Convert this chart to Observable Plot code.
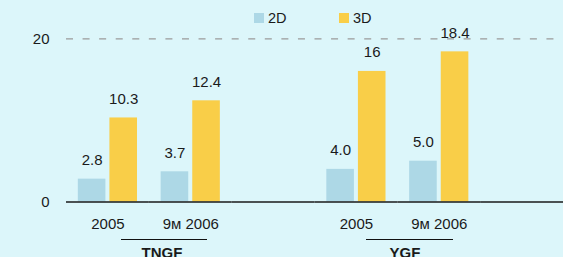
<!DOCTYPE html>
<html>
<head>
<meta charset="utf-8">
<script src="https://cdn.jsdelivr.net/npm/d3@7"></script>
<script src="https://cdn.jsdelivr.net/npm/@observablehq/plot@0.6"></script>
<style>
  body { margin: 0; background: #ffffff; font-family: "Liberation Sans", Arial, sans-serif; }
  #wrap { position: relative; width: 563px; height: 257px; background: #dcf6fa; color: #1a1a1a; }
  #legend { position: absolute; left: 254px; top: 9.5px; display: flex; font-size: 14.5px; }
  .item { display: flex; align-items: center; width: 85px; }
  .sw { width: 10px; height: 10px; margin-right: 4px; }
  .grp { position: absolute; text-align: center; font-weight: bold; font-size: 15px; width: 100px; line-height: 17px; }
  .uline { position: absolute; height: 0; border-top: 1.3px solid #111; }
</style>
</head>
<body>
<div id="wrap"></div>
<script>
// ---- data ----
const groups = ["TNGF", "YGF"];
const categories = ["2005", "9м 2006"];
const series = ["2D", "3D"];
const seriesColors = ["#add8e6", "#f9ce48"];
const values2D = [2.8, 3.7, 4.0, 5.0];
const values3D = [10.3, 12.4, 16, 18.4];
const labels2D = ["2.8", "3.7", "4.0", "5.0"];
const labels3D = ["10.3", "12.4", "16", "18.4"];
const yTicks = [0, 20];

// ---- build table ----
const rows = [];
const slotKeys = [];
groups.forEach((g, gi) => {
  categories.forEach((c, ci) => {
    const k = g + " " + c;
    const i = gi * categories.length + ci;
    slotKeys.push(k);
    rows.push({slot: k, group: g, category: c, series: series[0], value: values2D[i], label: labels2D[i]});
    rows.push({slot: k, group: g, category: c, series: series[1], value: values3D[i], label: labels3D[i]});
  });
  const sp = "spacer " + gi;
  slotKeys.push(sp);
  rows.push({slot: sp, group: g, category: "", series: series[0], value: NaN, label: ""});
});

const chart = Plot.plot({
  width: 563,
  height: 257,
  marginTop: 38.3,
  marginBottom: 55.5,
  marginLeft: 66,
  marginRight: 0,
  style: {background: "transparent", fontSize: "15px", fontFamily: "'Liberation Sans', Arial, sans-serif", color: "#1a1a1a", overflow: "visible"},
  facet: {data: rows, x: "slot"},
  fx: {domain: slotKeys, padding: 0, round: false, axis: null, label: null},
  x: {domain: series, paddingInner: 0.127, paddingOuter: 0.374, round: false, axis: null},
  y: {domain: [0, 20], ticks: yTicks, tickSize: 0, tickPadding: 17, label: null},
  color: {domain: series, range: seriesColors},
  marks: [
    Plot.ruleY([20], {stroke: "#9a9a9a", strokeWidth: 1.2, strokeDasharray: "7 9.57"}),
    Plot.barY(rows, {x: "series", y: "value", fill: "series"}),
    Plot.ruleY([0], {stroke: "#1a1a1a", strokeWidth: 1.5}),
    Plot.text(rows, {x: "series", y: "value", text: "label", dy: -18.8, fill: "#1a1a1a"}),
    Plot.text(rows, {filter: d => d.series === series[0], frameAnchor: "bottom", text: "category", lineAnchor: "top", dy: 16, fill: "#1a1a1a"})
  ]
});

const wrap = document.getElementById("wrap");
wrap.appendChild(chart);

// legend
const legend = document.createElement("div");
legend.id = "legend";
series.forEach((s, i) => {
  const it = document.createElement("div");
  it.className = "item";
  const sw = document.createElement("span");
  sw.className = "sw";
  sw.style.background = seriesColors[i];
  const t = document.createElement("span");
  t.textContent = s;
  it.appendChild(sw); it.appendChild(t);
  legend.appendChild(it);
});
wrap.appendChild(legend);

// group labels with underline
const groupPos = [{ul: 121, w: 86, c: 162}, {ul: 366, w: 87, c: 405}];
groups.forEach((g, i) => {
  const u = document.createElement("div");
  u.className = "uline";
  u.style.left = groupPos[i].ul + "px";
  u.style.width = groupPos[i].w + "px";
  u.style.top = "238.7px";
  wrap.appendChild(u);
  const t = document.createElement("div");
  t.className = "grp";
  t.textContent = g;
  t.style.left = (groupPos[i].c - 50) + "px";
  t.style.top = "244px";
  wrap.appendChild(t);
});
</script>
</body>
</html>
